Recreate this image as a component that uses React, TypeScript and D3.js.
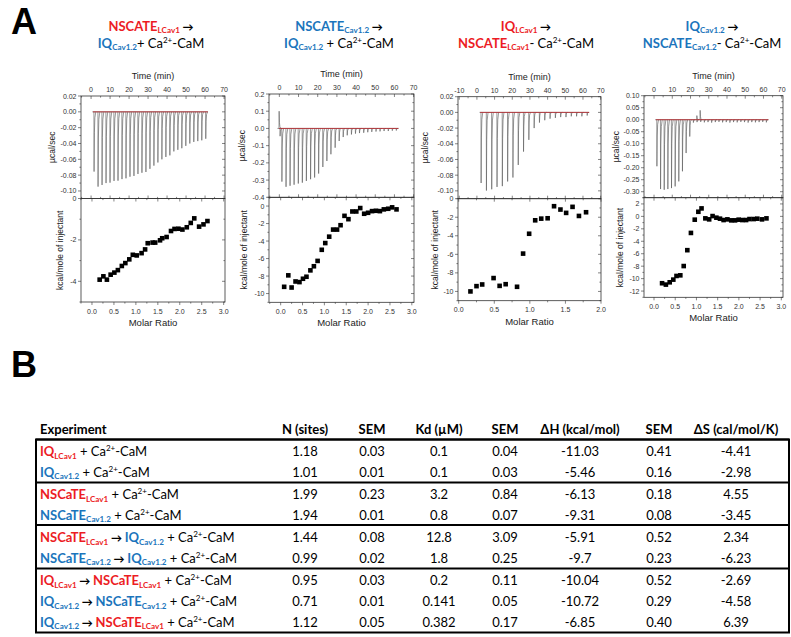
import React from 'react';
import * as d3 from 'd3';

const RED = '#ec1c24';
const BLUE = '#1b75bc';
const AXIS_FONT = '"Liberation Sans", Arial, sans-serif';
const TEXT_FONT = 'Lato, "Open Sans", sans-serif';

// ---- Panel A: raw thermograms (injection time in min, peak in µcal/sec) ----
const inj1Time = [1.5, 3.6, 5.7, 7.8, 9.9, 12.0, 14.1, 16.2, 18.3, 20.4, 22.5, 24.6, 26.7, 28.8, 30.9, 33.0, 35.1, 37.2, 39.3, 41.4, 43.5, 45.6, 47.7, 49.8, 51.9, 54.0, 56.1, 58.2, 60.3];
const inj1Peak = [-0.0755, -0.0945, -0.0924, -0.09, -0.0895, -0.0873, -0.087, -0.085, -0.084, -0.082, -0.081, -0.0785, -0.077, -0.076, -0.072, -0.068, -0.064, -0.06, -0.057, -0.055, -0.05, -0.048, -0.046, -0.043, -0.04, -0.038, -0.037, -0.036, -0.034];

const inj2Time = [0.3, 1.25, 3.4, 5.5, 7.6, 9.8, 11.9, 14.0, 16.2, 18.3, 20.4, 22.6, 24.7, 26.8, 29.0, 31.1, 33.2, 35.3, 37.5, 39.6, 41.7, 43.9, 46.0, 48.1, 50.3, 52.4, 54.5, 56.7, 58.8, 60.9];
const inj2Peak = [-0.045, -0.309, -0.339, -0.333, -0.327, -0.32, -0.315, -0.305, -0.295, -0.285, -0.262, -0.224, -0.189, -0.15, -0.112, -0.073, -0.05, -0.04, -0.035, -0.03, -0.027, -0.025, -0.022, -0.02, -0.018, -0.017, -0.015, -0.015, -0.013, -0.012];
const blip2Time = [-0.2];
const blip2Peak = [0.1];

const inj3Time = [2.3, 5.3, 8.3, 11.3, 14.3, 17.3, 20.3, 23.3, 26.3, 29.3, 32.3, 35.3, 38.3, 41.3, 44.3, 47.3, 50.3, 53.3, 56.3, 59.3, 62.3];
const inj3Peak = [-0.09, -0.0996, -0.098, -0.095, -0.094, -0.088, -0.083, -0.067, -0.05, -0.035, -0.02, -0.013, -0.01, -0.008, -0.007, -0.006, -0.006, -0.005, -0.005, -0.005, -0.004];

const inj4Time = [1.5, 3.5, 5.5, 7.5, 9.5, 11.5, 13.5, 15.5, 17.5, 19.5, 21.5, 23.5, 25.5, 27.5, 29.5, 31.5, 33.5, 35.5, 37.5, 39.5, 41.5, 43.5, 45.5, 47.5, 49.5, 51.5, 53.5, 55.5, 57.5, 59.5, 61.5];
const inj4Peak = [-0.194, -0.289, -0.292, -0.289, -0.285, -0.278, -0.257, -0.215, -0.139, -0.07, -0.012, -0.01, -0.009, -0.011, -0.01, -0.012, -0.01, -0.009, -0.011, -0.01, -0.012, -0.01, -0.011, -0.009, -0.01, -0.012, -0.01, -0.011, -0.01, -0.009, -0.011];
const blip4Time = [23.4, 25.2];
const blip4Peak = [0.017, 0.039];

// ---- Panel A: integrated heats (molar ratio vs kcal/mole of injectant) ----
const ratio1 = [0.175, 0.26, 0.34, 0.425, 0.51, 0.59, 0.68, 0.76, 0.85, 0.93, 1.02, 1.13, 1.21, 1.27, 1.38, 1.44, 1.55, 1.6, 1.7, 1.8, 1.88, 1.97, 2.06, 2.16, 2.25, 2.33, 2.44, 2.54, 2.63];
const heat1 = [-3.92, -3.76, -3.92, -3.68, -3.58, -3.46, -3.26, -3.12, -2.94, -2.72, -2.75, -2.64, -2.46, -2.16, -2.13, -2.13, -2.02, -1.92, -1.86, -1.57, -1.47, -1.46, -1.5, -1.39, -1.18, -0.96, -1.36, -1.25, -1.09];

const ratio2 = [0.08, 0.175, 0.25, 0.34, 0.43, 0.51, 0.59, 0.68, 0.76, 0.845, 0.94, 1.02, 1.11, 1.2, 1.29, 1.37, 1.46, 1.55, 1.64, 1.73, 1.82, 1.91, 2.0, 2.09, 2.18, 2.27, 2.36, 2.46, 2.55, 2.65];
const heat2 = [-9.23, -7.92, -9.31, -8.62, -8.69, -8.31, -8.08, -7.35, -6.88, -6.27, -5.0, -4.23, -3.5, -2.69, -2.69, -2.19, -1.12, -1.5, -0.62, -0.62, -0.23, -0.88, -0.77, -0.58, -0.54, -0.58, -0.38, -0.31, -0.15, -0.38];

const ratio3 = [0.165, 0.25, 0.33, 0.49, 0.575, 0.66, 0.82, 0.905, 0.99, 1.075, 1.16, 1.25, 1.34, 1.43, 1.51, 1.6, 1.69, 1.79];
const heat3 = [-10.0, -9.43, -9.25, -8.56, -9.4, -9.22, -9.5, -5.92, -3.78, -2.33, -2.15, -2.11, -0.81, -1.17, -1.53, -0.88, -1.86, -1.46];

const ratio4 = [0.19, 0.28, 0.37, 0.455, 0.53, 0.62, 0.7, 0.785, 0.87, 0.96, 1.045, 1.12, 1.21, 1.3, 1.38, 1.47, 1.555, 1.64, 1.73, 1.82, 1.91, 1.995, 2.08, 2.17, 2.25, 2.35, 2.435, 2.545, 2.65];
const heat4 = [-10.74, -10.96, -10.59, -10.16, -9.57, -9.47, -7.98, -5.43, -2.66, -0.53, 0.74, 1.28, -0.32, -0.48, 0.05, -0.21, -0.37, -0.59, -0.48, -0.64, -0.64, -0.53, -0.59, -0.59, -0.43, -0.43, -0.37, -0.48, -0.32];

// ---- Panel B: table ----
const tableHeaders = ['N (sites)', 'SEM', 'Kd (µM)', 'SEM', 'ΔH (kcal/mol)', 'SEM', 'ΔS (cal/mol/K)'];
const nSites = ['1.18', '1.01', '1.99', '1.94', '1.44', '0.99', '0.95', '0.71', '1.12'];
const nSem = ['0.03', '0.01', '0.23', '0.01', '0.08', '0.02', '0.03', '0.01', '0.05'];
const kd = ['0.1', '0.1', '3.2', '0.8', '12.8', '1.8', '0.2', '0.141', '0.382'];
const kdSem = ['0.04', '0.03', '0.84', '0.07', '3.09', '0.25', '0.11', '0.05', '0.17'];
const dH = ['-11.03', '-5.46', '-6.13', '-9.31', '-5.91', '-9.7', '-10.04', '-10.72', '-6.85'];
const dHSem = ['0.41', '0.16', '0.18', '0.08', '0.52', '0.23', '0.52', '0.29', '0.40'];
const dS = ['-4.41', '-2.98', '4.55', '-3.45', '2.34', '-6.23', '-2.69', '-4.58', '6.39'];

type Seg = { t: string; c?: string; b?: boolean; s?: 'sub' | 'sup' | 'arrow' };
const iq = (sub: string, c: string): Seg[] => [{ t: 'IQ', c, b: true }, { t: sub, c, b: true, s: 'sub' }];
const nsc = (name: string, sub: string, c: string): Seg[] => [{ t: name, c, b: true }, { t: sub, c, b: true, s: 'sub' }];
const ca = (lead: string): Seg[] => [{ t: lead + 'Ca' }, { t: '2+', s: 'sup' }, { t: '-CaM' }];
const arrow: Seg = { t: ' → ', b: true, s: 'arrow' };

const experiments: Seg[][] = [
  [...iq('LCav1', RED), ...ca(' + ')],
  [...iq('Cav1.2', BLUE), ...ca(' + ')],
  [...nsc('NSCaTE', 'LCav1', RED), ...ca(' + ')],
  [...nsc('NSCaTE', 'Cav1.2', BLUE), ...ca(' + ')],
  [...nsc('NSCaTE', 'LCav1', RED), arrow, ...iq('Cav1.2', BLUE), ...ca(' + ')],
  [...nsc('NSCaTE', 'Cav1.2', BLUE), arrow, ...iq('Cav1.2', BLUE), ...ca(' + ')],
  [...iq('LCav1', RED), arrow, ...nsc('NSCaTE', 'LCav1', RED), ...ca(' + ')],
  [...iq('Cav1.2', BLUE), arrow, ...nsc('NSCaTE', 'Cav1.2', BLUE), ...ca(' + ')],
  [...iq('Cav1.2', BLUE), arrow, ...nsc('NSCaTE', 'LCav1', RED), ...ca(' + ')],
];

const panels = [
  {
    cx: 151, x0: 81, x1: 225, top: 96, mid: 198.5, bot: 302,
    time: [-5.3, 70.5], raw: [-0.1095, 0.02], rawStep: 0.02, rawDec: 2,
    ratio: [-0.25, 3.03], heat: [-5, 0], uTitleX: 55, lTitleX: 63,
    injT: inj1Time, injP: inj1Peak, blipT: [] as number[], blipP: [] as number[],
    mr: ratio1, dq: heat1,
    line1: [...nsc('NSCATE', 'LCav1', RED), { t: ' →', b: true, s: 'arrow' } as Seg],
    line2: [...iq('Cav1.2', BLUE), ...ca('+ ')],
  },
  {
    cx: 339, x0: 269, x1: 414, top: 94, mid: 197.3, bot: 302.3,
    time: [-5.4, 70.2], raw: [-0.4, 0.2], rawStep: 0.1, rawDec: 1,
    ratio: [-0.267, 3.05], heat: [-11, 1], uTitleX: 245, lTitleX: 247,
    injT: inj2Time, injP: inj2Peak, blipT: blip2Time, blipP: blip2Peak,
    mr: ratio2, dq: heat2,
    line1: [...nsc('NSCATE', 'Cav1.2', BLUE), { t: ' →', b: true, s: 'arrow' } as Seg],
    line2: [...iq('Cav1.2', BLUE), ...ca(' + ')],
  },
  {
    cx: 526, x0: 458, x1: 601, top: 96.7, mid: 198.7, bot: 300.7,
    time: [-10.7, 70.2], raw: [-0.11, 0.02], rawStep: 0.02, rawDec: 2,
    ratio: [-0.01, 2.0], heat: [-11, 0], uTitleX: 428, lTitleX: 438,
    injT: inj3Time, injP: inj3Peak, blipT: [] as number[], blipP: [] as number[],
    mr: ratio3, dq: heat3,
    line1: [...iq('LCav1', RED), { t: ' →', b: true, s: 'arrow' } as Seg],
    line2: [...nsc('NSCATE', 'LCav1', RED), ...ca('- ')],
  },
  {
    cx: 712, x0: 644, x1: 783, top: 95.7, mid: 197.7, bot: 297.3,
    time: [-5.5, 70.7], raw: [-0.325, 0.1], rawStep: 0.05, rawDec: 2,
    ratio: [-0.236, 3.04], heat: [-13, 3], uTitleX: 619, lTitleX: 623,
    injT: inj4Time, injP: inj4Peak, blipT: blip4Time, blipP: blip4Peak,
    mr: ratio4, dq: heat4,
    line1: [...iq('Cav1.2', BLUE), { t: ' →', b: true, s: 'arrow' } as Seg],
    line2: [...nsc('NSCATE', 'Cav1.2', BLUE), ...ca('- ')],
  },
];

// values on a regular step inside a domain
const steps = (dom: number[], step: number) => {
  const lo = Math.ceil(dom[0] / step - 1e-6);
  const hi = Math.floor(dom[1] / step + 1e-6);
  return d3.range(lo, hi + 1).map(k => +(k * step).toFixed(6));
};

function Rich({ x, y, segs, size, anchor = 'start' }: { x: number; y: number; segs: Seg[]; size: number; anchor?: string }) {
  let off = 0;
  const parts = segs.map((s, i) => {
    let target = 0;
    let fs = size;
    if (s.s === 'sub') { target = size * 0.2; fs = size * 0.62; }
    if (s.s === 'sup') { target = -size * 0.38; fs = size * 0.62; }
    if (s.s === 'arrow') { fs = size * 0.85; }
    const dy = target - off;
    off = target;
    return (
      <tspan key={i} dy={dy} fontSize={fs} fill={s.c || '#000'} fontWeight={s.b ? 700 : 400}>{s.t}</tspan>
    );
  });
  return (
    <text x={x} y={y} fontSize={size} textAnchor={anchor} fontFamily={TEXT_FONT} style={{ whiteSpace: 'pre' }}>{parts}</text>
  );
}

function ItcPanel({ p }: { p: typeof panels[number] }) {
  const tx = d3.scaleLinear().domain(p.time).range([p.x0, p.x1]);
  const ry = d3.scaleLinear().domain(p.raw).range([p.mid, p.top]);
  const mx = d3.scaleLinear().domain(p.ratio).range([p.x0, p.x1]);
  const hy = d3.scaleLinear().domain(p.heat).range([p.bot, p.mid]);
  const w = p.x1 - p.x0;

  const spike = (t: number, d: number) =>
    d3.line()([
      [tx(t), ry(0)], [tx(t + 0.08), ry(d)], [tx(t + 0.25), ry(d * 0.35)],
      [tx(t + 0.5), ry(d * 0.1)], [tx(t + 1.0), ry(0)],
    ]);
  const tStart = Math.min(p.injT[0], ...(p.blipT.length ? p.blipT : [p.injT[0]])) - 0.8;
  const tEnd = p.injT[p.injT.length - 1] + 1.2;

  const tMajor = steps(p.time, 10);
  const tMinor = steps(p.time, 5);
  const rMajor = steps(p.raw, p.rawStep);
  const rMinor = steps(p.raw, p.rawStep / 2);
  const mMajor = steps(p.ratio, 0.5);
  const mMinor = steps(p.ratio, 0.25);
  const hMajor = steps(p.heat, 2);
  const hMinor = steps(p.heat, 1);
  const stroke = '#333';
  const lab = { fontFamily: AXIS_FONT, fontSize: 7, fill: '#333' };

  return (
    <g>
      <Rich x={p.cx} y={30.5} segs={p.line1} size={13} anchor="middle" />
      <Rich x={p.cx} y={47.5} segs={p.line2} size={13} anchor="middle" />

      {/* raw thermogram */}
      <line x1={tx(tStart)} x2={tx(tEnd)} y1={ry(0)} y2={ry(0)} stroke="#444" strokeWidth={0.6} />
      {p.injT.map((t, i) => (
        <path key={'s' + i} d={spike(t, p.injP[i]) || ''} fill="none" stroke="#555" strokeWidth={0.6} />
      ))}
      {p.blipT.map((t, i) => (
        <path key={'b' + i} d={spike(t, p.blipP[i]) || ''} fill="none" stroke="#555" strokeWidth={0.6} />
      ))}
      <line x1={tx(p.injT[0] - 0.5)} x2={tx(tEnd)} y1={ry(0)} y2={ry(0)} stroke="#c0282d" strokeWidth={0.8} />

      {/* binding isotherm */}
      {p.mr.map((m, i) => (
        <rect key={'m' + i} x={mx(m) - 2.3} y={hy(p.dq[i]) - 2.3} width={4.6} height={4.6} fill="#000" />
      ))}

      {/* frames */}
      <rect x={p.x0} y={p.top} width={w} height={p.mid - p.top} fill="none" stroke={stroke} strokeWidth={0.8} />
      <rect x={p.x0} y={p.mid} width={w} height={p.bot - p.mid} fill="none" stroke={stroke} strokeWidth={0.8} />

      {/* time ticks (top and divider) */}
      {tMinor.map(t => {
        const L = tMajor.includes(t) ? 3 : 1.6;
        return (
          <g key={'t' + t}>
            <line x1={tx(t)} x2={tx(t)} y1={p.top} y2={p.top + L} stroke={stroke} strokeWidth={0.6} />
            <line x1={tx(t)} x2={tx(t)} y1={p.mid} y2={p.mid - L} stroke={stroke} strokeWidth={0.6} />
          </g>
        );
      })}
      {tMajor.map(t => (
        <text key={'tl' + t} x={tx(t)} y={p.top - 4} textAnchor="middle" {...lab}>{t}</text>
      ))}
      <text x={(p.x0 + p.x1) / 2} y={p.top - 17} textAnchor="middle" fontFamily={AXIS_FONT} fontSize={9} fill="#222">Time (min)</text>

      {/* raw y ticks */}
      {rMinor.map(v => {
        const L = rMajor.includes(v) ? 3 : 1.6;
        return (
          <g key={'r' + v}>
            <line x1={p.x0} x2={p.x0 - L} y1={ry(v)} y2={ry(v)} stroke={stroke} strokeWidth={0.6} />
            <line x1={p.x1} x2={p.x1 - L} y1={ry(v)} y2={ry(v)} stroke={stroke} strokeWidth={0.6} />
          </g>
        );
      })}
      {rMajor.map(v => (
        <text key={'rl' + v} x={p.x0 - 4.5} y={ry(v) + 2.5} textAnchor="end" {...lab}>{v.toFixed(p.rawDec)}</text>
      ))}
      <text transform={`translate(${p.uTitleX},${(p.top + p.mid) / 2}) rotate(-90)`} textAnchor="middle" fontFamily={AXIS_FONT} fontSize={8.5} fill="#222">µcal/sec</text>

      {/* heat y ticks */}
      {hMinor.map(v => {
        const L = hMajor.includes(v) ? 3 : 1.6;
        return (
          <g key={'h' + v}>
            <line x1={p.x0} x2={p.x0 - L} y1={hy(v)} y2={hy(v)} stroke={stroke} strokeWidth={0.6} />
            <line x1={p.x1} x2={p.x1 - L} y1={hy(v)} y2={hy(v)} stroke={stroke} strokeWidth={0.6} />
          </g>
        );
      })}
      {hMajor.map(v => (
        <text key={'hl' + v} x={p.x0 - 4.5} y={hy(v) + 2.5} textAnchor="end" {...lab}>{String(v)}</text>
      ))}
      <text transform={`translate(${p.lTitleX},${(p.mid + p.bot) / 2}) rotate(-90)`} textAnchor="middle" fontFamily={AXIS_FONT} fontSize={8.5} fill="#222">kcal/mole of injectant</text>

      {/* molar ratio ticks */}
      {mMinor.map(m => {
        const L = mMajor.includes(m) ? 3 : 1.6;
        return (
          <g key={'m' + m}>
            <line x1={mx(m)} x2={mx(m)} y1={p.mid} y2={p.mid + L} stroke={stroke} strokeWidth={0.6} />
            <line x1={mx(m)} x2={mx(m)} y1={p.bot} y2={p.bot + L} stroke={stroke} strokeWidth={0.6} />
          </g>
        );
      })}
      {mMajor.map(m => (
        <text key={'ml' + m} x={mx(m)} y={p.bot + 11.5} textAnchor="middle" {...lab}>{m.toFixed(1)}</text>
      ))}
      <text x={(p.x0 + p.x1) / 2} y={p.bot + 24} textAnchor="middle" fontFamily={AXIS_FONT} fontSize={9.5} fill="#222">Molar Ratio</text>
    </g>
  );
}

function Table() {
  const colX = [305, 372, 439, 505, 580, 659, 736];
  const cols = [nSites, nSem, kd, kdSem, dH, dHSem, dS];
  const rowY = [456, 476.5, 499, 519.5, 542, 562.5, 585, 606, 626.5];
  const rules = [439.5, 482.5, 525, 568.5];
  const bottom = 632.5;
  const left = 36;
  const right = 789;
  return (
    <g>
      <text x={40} y={434} fontFamily={TEXT_FONT} fontSize={13} fontWeight={700}>Experiment</text>
      {tableHeaders.map((h, i) => (
        <text key={h + i} x={colX[i]} y={434} textAnchor="middle" fontFamily={TEXT_FONT} fontSize={13} fontWeight={700}>{h}</text>
      ))}
      {experiments.map((segs, r) => (
        <Rich key={'e' + r} x={40} y={rowY[r]} segs={segs} size={13} />
      ))}
      {cols.map((col, c) =>
        col.map((v, r) => (
          <text key={c + '-' + r} x={colX[c]} y={rowY[r]} textAnchor="middle" fontFamily={TEXT_FONT} fontSize={13}>{v}</text>
        ))
      )}
      {rules.map(y => (
        <line key={y} x1={left} x2={right} y1={y} y2={y} stroke="#000" strokeWidth={2} />
      ))}
      <rect x={left} y={rules[0]} width={right - left} height={bottom - rules[0]} fill="none" stroke="#000" strokeWidth={2} />
    </g>
  );
}

export default function App() {
  return (
    <svg width={791} height={637} style={{ position: 'absolute', left: 0, top: 0, background: '#fff' }}>
      <rect width={791} height={637} fill="#fff" />
      <text x={11} y={34} fontFamily={AXIS_FONT} fontWeight={700} fontSize={36}>A</text>
      <text x={11} y={377} fontFamily={AXIS_FONT} fontWeight={700} fontSize={36}>B</text>
      {panels.map((p, i) => <ItcPanel key={i} p={p} />)}
      <Table />
    </svg>
  );
}
